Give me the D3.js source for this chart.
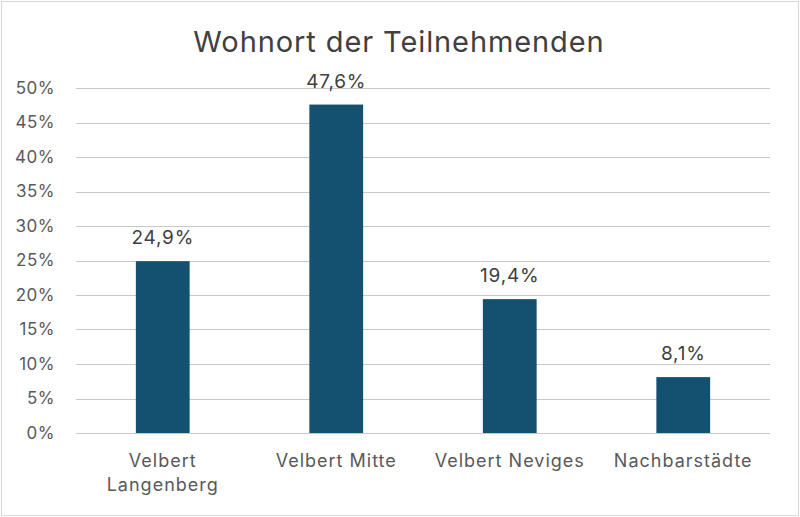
<!DOCTYPE html>
<html>
<head>
<meta charset="utf-8">
<script src="https://cdn.jsdelivr.net/npm/d3@7"></script>
<style>
  body { margin: 0; background: #fff; }
  svg { display: block; font-family: Inter, "Open Sans", sans-serif; }
</style>
</head>
<body>
<svg id="chart" width="800" height="517"></svg>
<script>

var categories = [["Velbert", "Langenberg"], ["Velbert Mitte"], ["Velbert Neviges"], ["Nachbarstädte"]];
var values = [24.9, 47.6, 19.4, 8.1];
var yTicks = [0, 5, 10, 15, 20, 25, 30, 35, 40, 45, 50];

var margin = {top: 88, right: 30, bottom: 84, left: 76},
    width = 800,
    height = 517;

var svg = d3.select("#chart");

// outer border
svg.append("rect")
    .attr("x", 1.5)
    .attr("y", 1.5)
    .attr("width", width - 3)
    .attr("height", height - 3)
    .attr("fill", "#fff")
    .attr("stroke", "#d9d9d9");

var x = d3.scaleBand()
    .domain(d3.range(categories.length))
    .range([margin.left, width - margin.right])
    .paddingInner(0.69)
    .paddingOuter(0.345);

var y = d3.scaleLinear()
    .domain([0, 50])
    .range([height - margin.bottom, margin.top]);

// gridlines
svg.append("g")
    .selectAll("line")
    .data(yTicks)
    .enter().append("line")
    .attr("x1", margin.left)
    .attr("x2", width - margin.right)
    .attr("y1", function(d){ return Math.round(y(d)) + 0.5; })
    .attr("y2", function(d){ return Math.round(y(d)) + 0.5; })
    .attr("stroke", "#c8c8c8")
    .attr("stroke-width", 1);

// y axis labels
var yAxis = d3.axisLeft(y)
    .tickValues(yTicks)
    .tickSize(0)
    .tickPadding(21)
    .tickFormat(function(d){ return d + "%"; });

var gy = svg.append("g")
    .attr("transform", "translate(" + margin.left + ",0)")
    .call(yAxis);
gy.select(".domain").remove();
gy.selectAll("text")
    .attr("fill", "#595959")
    .style("font-size", "17px")
    .style("letter-spacing", "0.5px")
    .style("font-family", "Inter, 'Open Sans', sans-serif");

// bars
svg.append("g")
    .selectAll("rect")
    .data(values)
    .enter().append("rect")
    .attr("x", function(d, i){ return x(i); })
    .attr("y", function(d){ return y(d); })
    .attr("width", x.bandwidth())
    .attr("height", function(d){ return y(0) - y(d); })
    .attr("fill", "#145170");

// value labels
svg.append("g")
    .selectAll("text")
    .data(values)
    .enter().append("text")
    .attr("x", function(d, i){ return x(i) + x.bandwidth() / 2; })
    .attr("y", function(d){ return y(d) - 17; })
    .attr("text-anchor", "middle")
    .attr("fill", "#404040")
    .style("font-size", "19px")
    .style("letter-spacing", "0.8px")
    .text(function(d){ return d.toFixed(1).replace(".", ",") + "%"; });

// category labels
var cats = svg.append("g")
    .selectAll("text")
    .data(categories)
    .enter().append("text")
    .attr("x", function(d, i){ return x(i) + x.bandwidth() / 2; })
    .attr("y", y(0) + 34)
    .attr("text-anchor", "middle")
    .attr("fill", "#595959")
    .style("font-size", "18px")
    .style("letter-spacing", "1px");

cats.selectAll("tspan")
    .data(function(d){ return d; })
    .enter().append("tspan")
    .attr("x", function(){ return d3.select(this.parentNode).attr("x"); })
    .attr("dy", function(d, i){ return i === 0 ? 0 : 24; })
    .text(function(d){ return d; });

// title
svg.append("text")
    .attr("x", 399)
    .attr("y", 52)
    .attr("text-anchor", "middle")
    .attr("fill", "#404040")
    .style("font-size", "29px")
    .style("letter-spacing", "0.9px")
    .text("Wohnort der Teilnehmenden");

</script>
</body>
</html>
